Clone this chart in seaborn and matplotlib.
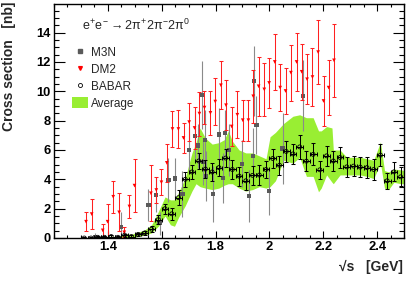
import numpy as np
import matplotlib
matplotlib.use("Agg")
import matplotlib.pyplot as plt
import seaborn as sns
from matplotlib.lines import Line2D
from matplotlib.patches import Patch
from matplotlib.ticker import MultipleLocator, FixedLocator

# ---- data ----
# BABAR (bin centres, cross section, stat. error)
babar_x = [1.3125, 1.3375, 1.3625, 1.3875, 1.4125, 1.4375, 1.4625, 1.4875,
           1.5125, 1.5375, 1.5625, 1.5875, 1.6125, 1.6375, 1.6625, 1.6875,
           1.7125, 1.7375, 1.7625, 1.7875, 1.8125, 1.8375, 1.8625, 1.8875,
           1.9125, 1.9375, 1.9625, 1.9875, 2.0125, 2.0375, 2.0625, 2.0875,
           2.1125, 2.1375, 2.1625, 2.1875, 2.2125, 2.2375, 2.2625, 2.2875,
           2.3125, 2.3375, 2.3625, 2.3875, 2.4125, 2.4375, 2.4625, 2.4875]
babar_y = [0.0, 0.0, 0.05, 0.05, 0.1, 0.05, 0.2, 0.1,
           0.25, 0.35, 0.6, 1.25, 2.0, 1.65, 2.75, 4.0,
           4.5, 5.25, 4.7, 4.5, 4.8, 5.45, 4.67, 4.22,
           3.9, 4.27, 4.29, 4.67, 5.42, 4.96, 5.9, 5.73,
           6.21, 5.24, 5.7, 4.65, 5.6, 5.25, 5.49, 4.85,
           4.9, 4.83, 4.8, 4.67, 5.65, 3.9, 4.51, 4.17]
babar_err = [0.05, 0.05, 0.06, 0.06, 0.08, 0.08, 0.1, 0.1,
             0.12, 0.15, 0.2, 0.3, 0.35, 0.4, 0.5, 0.5,
             0.5, 0.55, 0.6, 0.6, 0.6, 0.6, 0.65, 0.65,
             0.6, 0.65, 0.7, 0.6, 0.68, 0.65, 0.7, 0.7,
             0.8, 0.7, 0.75, 0.6, 0.7, 0.7, 0.72, 0.7,
             0.7, 0.7, 0.7, 0.7, 0.75, 0.55, 0.65, 0.65]
babar_xerr = 0.0125

# DM2
dm2_x = [1.319, 1.340, 1.381, 1.399, 1.420, 1.442, 1.461, 1.480, 1.499,
         1.560, 1.580, 1.599, 1.619, 1.640, 1.662, 1.681, 1.702, 1.722,
         1.740, 1.759, 1.781, 1.799, 1.820, 1.839, 1.860, 1.881, 1.901,
         1.922, 1.940, 1.960, 1.981, 1.999, 2.020, 2.040, 2.060, 2.080,
         2.101, 2.120, 2.140, 2.160, 2.181, 2.201, 2.220, 2.240]
dm2_y = [1.11, 1.63, 0.52, 1.11, 2.81, 1.75, 0.39, 2.15, 3.57,
         3.05, 3.27, 3.8, 5.12, 7.43, 7.43, 6.82, 7.9, 7.5,
         8.48, 8.89, 8.53, 9.3, 10.41, 9.05, 7.6, 8.4, 8.03,
         8.03, 9.66, 10.34, 10.13, 10.57, 12.0, 10.25, 10.02, 11.27,
         12.0, 11.33, 10.82, 10.97, 12.67, 9.34, 10.25, 12.11]
dm2_err = [0.65, 1.0, 0.45, 1.2, 1.1, 1.3, 0.35, 0.8, 1.8,
           1.9, 0.9, 0.9, 1.3, 1.2, 1.3, 1.0, 1.3, 1.4,
           1.5, 1.1, 1.5, 1.6, 1.65, 1.7, 1.3, 1.6, 1.4,
           1.4, 1.8, 2.0, 1.8, 1.7, 1.9, 1.6, 1.6, 1.9,
           2.0, 1.9, 1.7, 2.0, 2.2, 1.7, 1.9, 2.5]

# M3N
m3n_x = [1.351, 1.450, 1.551, 1.580, 1.592, 1.625, 1.650, 1.677, 1.701,
         1.724, 1.733, 1.751, 1.753, 1.761, 1.766, 1.790, 1.814, 1.827,
         1.835, 1.850, 1.899, 1.925, 1.940, 1.944, 1.952, 1.999, 2.049, 2.126]
m3n_y = [0.05, 0.75, 2.25, 2.95, 1.0, 3.95, 4.05, 3.0, 6.0,
         6.95, 6.3, 9.75, 5.2, 6.7, 4.23, 3.0, 7.05, 4.1,
         7.15, 6.0, 5.05, 2.86, 5.6, 10.7, 7.7, 3.2, 6.1, 9.7]
m3n_err = [0.3, 1.0, 1.1, 1.2, 0.8, 1.5, 1.4, 1.6, 1.6,
           1.7, 1.5, 2.3, 1.6, 2.0, 1.7, 1.9, 1.8, 1.7,
           1.6, 1.8, 1.6, 1.8, 1.9, 2.4, 2.0, 1.6, 2.4, 2.4]

# Average band (lower / upper edge)
avg_x = [1.3625, 1.3875, 1.4125, 1.4375, 1.4625, 1.4875, 1.5125, 1.5375,
         1.5625, 1.5875, 1.6125, 1.6325, 1.6475, 1.6625, 1.6875, 1.7125,
         1.7275, 1.7425, 1.7625, 1.7875, 1.8125, 1.8325, 1.8475, 1.8625,
         1.8875, 1.9125, 1.9375, 1.9625, 1.9875, 2.0025, 2.0225, 2.0425,
         2.0525, 2.0875, 2.1125, 2.1375, 2.1625, 2.1825, 2.1925, 2.2125,
         2.2325, 2.2375, 2.2625, 2.2875, 2.3125, 2.3375, 2.3625, 2.3875,
         2.4125, 2.4275, 2.4425, 2.4625, 2.4875, 2.5]
avg_lo = [0.0, 0.0, 0.0, 0.0, 0.05, 0.0, 0.1, 0.2,
          0.35, 0.8, 1.5, 0.9, 0.8, 1.4, 2.2, 3.2,
          3.7, 3.5, 3.4, 3.3, 3.4, 3.6, 3.7, 3.7,
          3.4, 3.2, 3.3, 3.5, 3.4, 3.5, 3.9, 4.8,
          5.3, 5.1, 5.5, 4.2, 4.2, 3.15, 3.4, 4.3,
          3.8, 3.7, 4.3, 4.3, 4.3, 4.3, 4.2, 4.05,
          5.1, 3.4, 3.3, 3.8, 3.7, 3.7]
avg_hi = [0.1, 0.1, 0.12, 0.1, 0.3, 0.25, 0.4, 0.55,
          0.9, 1.8, 2.8, 2.6, 2.6, 3.1, 4.1, 5.8,
          6.5, 7.5, 6.8, 6.4, 6.5, 6.7, 7.3, 6.6,
          6.0, 5.8, 5.8, 5.6, 5.4, 6.9, 7.2, 7.6,
          7.8, 8.3, 8.4, 8.2, 8.2, 7.3, 7.3, 7.6,
          7.5, 6.0, 6.0, 5.5, 5.5, 5.5, 5.4, 5.3,
          6.55, 4.6, 4.5, 4.7, 4.65, 4.6]

# ---- style ----
sns.set_style("ticks")
plt.rcParams["font.family"] = ["Liberation Sans", "DejaVu Sans"]
plt.rcParams["mathtext.fontset"] = "custom"
plt.rcParams["mathtext.rm"] = "Liberation Sans"
plt.rcParams["mathtext.it"] = "Liberation Sans"
plt.rcParams["mathtext.bf"] = "Liberation Sans:bold"

green = "#99ee33"

fig = plt.figure(figsize=(4.15, 2.81), dpi=100)
ax = fig.add_axes([54 / 415, 1 - 238 / 281, 350 / 415, 234 / 281])

# band
ax.fill_between(avg_x, avg_lo, avg_hi, color=green, lw=0, zorder=1)

# M3N
ax.errorbar(m3n_x, m3n_y, yerr=m3n_err, fmt="none", ecolor="#8a8a8a",
            elinewidth=0.8, zorder=2)
sns.scatterplot(x=m3n_x, y=m3n_y, marker="s", color="#5a5a5a", s=9,
                edgecolor="none", ax=ax, zorder=3)

# DM2
ax.errorbar(dm2_x, dm2_y, yerr=dm2_err, fmt="none", ecolor="#ff2020",
            elinewidth=0.75, capsize=1.6, capthick=0.75, zorder=4)
sns.scatterplot(x=dm2_x, y=dm2_y, marker="v", color="#ff0000", s=7,
                edgecolor="none", ax=ax, zorder=5)

# BABAR
ax.errorbar(babar_x, babar_y, xerr=babar_xerr, yerr=babar_err, fmt="none",
            ecolor="black", elinewidth=0.75, capsize=1.6, capthick=0.75, zorder=6)
sns.scatterplot(x=babar_x, y=babar_y, marker="o", facecolor="none",
                edgecolor="black", linewidth=0.6, s=8, ax=ax, zorder=7)

# axes
ax.set_xlim(1.2, 2.5)
ax.set_ylim(0, 15.95)
ax.xaxis.set_major_locator(FixedLocator([1.4, 1.6, 1.8, 2.0, 2.2, 2.4]))
ax.set_xticklabels(["1.4", "1.6", "1.8", "2", "2.2", "2.4"])
ax.xaxis.set_minor_locator(MultipleLocator(0.05))
ax.yaxis.set_major_locator(MultipleLocator(2))
ax.yaxis.set_minor_locator(MultipleLocator(0.5))
ax.tick_params(axis="both", which="both", direction="in", top=True, right=True,
               width=0.8, colors="black")
ax.tick_params(axis="x", which="major", length=4.8, pad=2.5)
ax.tick_params(axis="x", which="minor", length=2.4)
ax.tick_params(axis="y", which="major", length=7.6, pad=2.5)
ax.tick_params(axis="y", which="minor", length=3.8)
for lab in ax.get_xticklabels() + ax.get_yticklabels():
    lab.set_fontweight("bold")
    lab.set_fontsize(9.3)
for sp in ax.spines.values():
    sp.set_linewidth(1.0)
    sp.set_color("black")

ax.set_ylabel("Cross section   [nb]", fontsize=10, fontweight="bold", loc="top")
ax.yaxis.set_label_coords(-0.108, 1.01)
ax.set_xlabel("\u221as   [GeV]", fontsize=10, fontweight="bold", loc="right")
ax.xaxis.set_label_coords(0.997, -0.095)

# legend
ax.text(0.08, 0.91,
        r"$e^{+}e^{-}{\rightarrow}2\pi^{+}2\pi^{-}2\pi^{0}$",
        transform=ax.transAxes, fontsize=9, va="center", ha="left")
handles = [
    Line2D([], [], marker="s", color="#5a5a5a", ls="none", ms=3.2),
    Line2D([], [], marker="v", color="#ff0000", ls="none", ms=2.7),
    Line2D([], [], marker="o", mfc="none", mec="black", mew=0.6, ls="none", ms=2.9),
    Patch(facecolor=green, edgecolor="none"),
]
ax.legend(handles, ["M3N", "DM2", "BABAR", "Average"], loc="upper left",
          bbox_to_anchor=(0.035, 0.845), frameon=False, fontsize=8.5,
          borderpad=0, handlelength=1.3, handleheight=1.05, handletextpad=0.3,
          labelspacing=0.38)

fig.savefig("out.png", dpi=100)
